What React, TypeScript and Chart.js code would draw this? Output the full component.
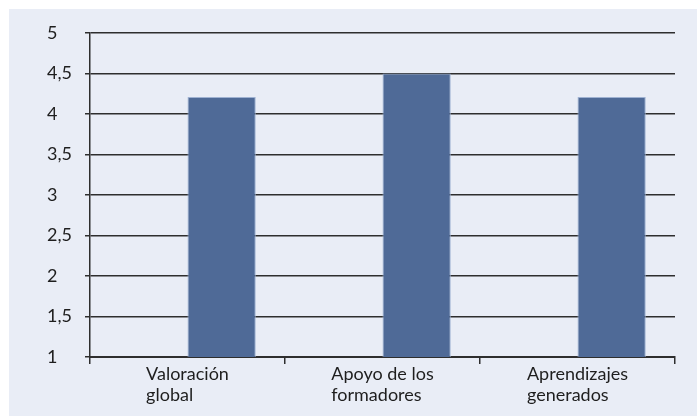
import React, { useEffect, useRef } from "react";
import { Chart, registerables } from "chart.js";

Chart.register(...registerables);

const categoryLines: string[][] = [
  ["Valoración", "global"],
  ["Apoyo de los", "formadores"],
  ["Aprendizajes", "generados"],
];
const emptySeries: (number | null)[] = [null, null, null];
const ratingValues: number[] = [4.21, 4.5, 4.21];
const yMin = 1;
const yMax = 5;
const yStep = 0.5;

const FONT = "Lato";
const FONT_SIZE = 18;
const TEXT_COLOR = "#1e1e1e";
const BG = "#e9edf6";
const BAR = "#4f6a97";
const GRID = "#2e2e2e";

const xLabelPlugin = {
  id: "xLabelPlugin",
  afterDraw(chart: any) {
    const scale = chart.scales.x;
    const ctx = chart.ctx;
    ctx.save();
    ctx.font = `${FONT_SIZE}px ${FONT}`;
    ctx.fillStyle = TEXT_COLOR;
    ctx.textAlign = "left";
    ctx.textBaseline = "alphabetic";
    categoryLines.forEach((lines, i) => {
      const center = scale.getPixelForTick(i);
      const w = ctx.measureText(lines[0]).width;
      lines.forEach((line, j) => {
        ctx.fillText(line, center - w / 2, scale.top + 23 + j * 21);
      });
    });
    ctx.restore();
  },
};

export default function App() {
  const canvasRef = useRef<HTMLCanvasElement | null>(null);

  useEffect(() => {
    if (!canvasRef.current) return;
    const chart = new Chart(canvasRef.current, {
      type: "bar",
      data: {
        labels: categoryLines,
        datasets: [
          { label: "", data: emptySeries, backgroundColor: BAR },
          {
            label: "Valoración",
            data: ratingValues,
            backgroundColor: BAR,
            borderColor: "#9fb2d2",
            borderWidth: 1,
          },
        ],
      },
      options: {
        animation: false,
        responsive: true,
        maintainAspectRatio: false,
        layout: { padding: { left: 38, top: 24, right: 22, bottom: 52 } },
        plugins: { legend: { display: false }, tooltip: { enabled: false } },
        datasets: { bar: { categoryPercentage: 0.7, barPercentage: 1 } },
        scales: {
          x: {
            offset: true,
            grid: {
              offset: true,
              drawOnChartArea: false,
              drawTicks: true,
              tickLength: 7,
              color: GRID,
              lineWidth: 1.5,
            },
            border: { display: true, color: GRID, width: 2 },
            ticks: { display: false },
          },
          y: {
            min: yMin,
            max: yMax,
            afterFit(scale: any) {
              scale.width = 43;
            },
            grid: {
              color: GRID,
              lineWidth: 1.5,
              tickLength: 5,
            },
            border: { display: true, color: GRID, width: 1.5 },
            ticks: {
              stepSize: yStep,
              crossAlign: "far",
              color: TEXT_COLOR,
              font: { family: FONT, size: FONT_SIZE },
              callback: (v: any) => String(v).replace(".", ","),
            },
          },
        },
      },
      plugins: [xLabelPlugin],
    });
    return () => chart.destroy();
  }, []);

  return (
    <div
      style={{
        position: "absolute",
        left: 9,
        top: 9,
        width: 688,
        height: 407,
        background: BG,
      }}
    >
      <canvas ref={canvasRef} />
    </div>
  );
}
